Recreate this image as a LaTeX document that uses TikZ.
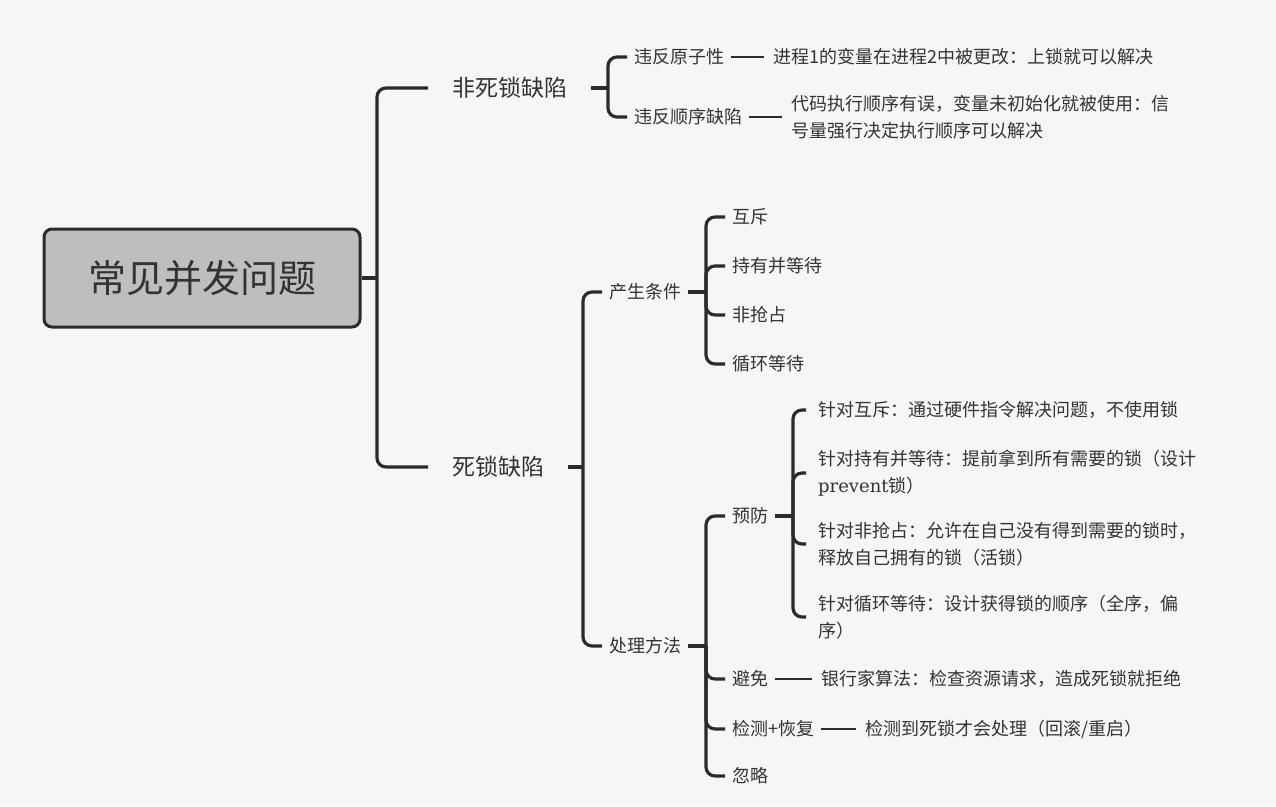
\documentclass[tikz,border=0pt]{standalone}
\usepackage{fontspec}
\setmainfont{Noto Sans CJK SC}
\newfontfamily\latinserif{DejaVu Serif}
\usetikzlibrary{positioning}
\definecolor{paper}{HTML}{F6F6F6}
\definecolor{ink}{HTML}{333333}
\definecolor{wire}{HTML}{2B2B2B}
\definecolor{rootfill}{HTML}{BEBEBE}

\begin{document}
\begin{tikzpicture}[
    x=1pt, y=-1pt,
    rootbox/.style={draw=wire, line width=3pt, rounded corners=8pt, fill=rootfill,
                    minimum width=316pt, minimum height=98pt, text=ink,
                    font=\fontsize{38}{46}\selectfont},
    mainbox/.style={anchor=west, inner xsep=24pt, text=ink, font=\fontsize{23}{28}\selectfont},
    subbox/.style={anchor=west, inner xsep=7pt, text=ink, font=\fontsize{18}{27}\selectfont},
    pbox/.style={subbox, inner xsep=12pt, align=left},
    notebox/.style={inner xsep=9pt, text=ink, align=left, font=\fontsize{18}{27}\selectfont},
    branch/.style={draw=wire, line width=3.2pt, rounded corners=9pt},
    link/.style={draw=wire, line width=2.2pt}
]
\fill[paper] (0,0) rectangle (1276,806);
\useasboundingbox (0,0) rectangle (1276,806);

% root
\node[rootbox] (root) at (202,278) {常见并发问题};

% first level
\node[mainbox] (nodl) at (428,88) {非死锁缺陷};
\node[mainbox] (dl) at (428,467) {死锁缺陷};

% non-deadlock
\node[subbox] (atom) at (627,57) {违反原子性};
\node[subbox] (order) at (627,117) {违反顺序缺陷};
\node[notebox, right=33pt of atom] (atomnote) {进程1的变量在进程2中被更改：上锁就可以解决};
\node[notebox, right=33pt of order] (ordernote) {代码执行顺序有误，变量未初始化就被使用：信\\号量强行决定执行顺序可以解决};

% deadlock
\node[subbox] (cond) at (602,292) {产生条件};
\node[subbox] (handle) at (602,646) {处理方法};

\node[subbox] (mutex) at (725,217) {互斥};
\node[subbox] (hold) at (725,266) {持有并等待};
\node[subbox] (nopre) at (725,315) {非抢占};
\node[subbox] (cyc) at (725,364) {循环等待};

\node[subbox] (prev) at (725,516) {预防};
\node[subbox] (avoid) at (725,679) {避免};
\node[subbox] (detect) at (725,729) {检测+恢复};
\node[subbox] (ignore) at (725,776) {忽略};

\node[pbox] (pmutex) at (806,410) {针对互斥：通过硬件指令解决问题，不使用锁};
\node[pbox] (phold) at (806,473) {针对持有并等待：提前拿到所有需要的锁（设计\\{\latinserif prevent}锁）};
\node[pbox] (pnopre) at (806,544) {针对非抢占：允许在自己没有得到需要的锁时，\\释放自己拥有的锁（活锁）};
\node[pbox] (pcyc) at (806,617) {针对循环等待：设计获得锁的顺序（全序，偏\\序）};

\node[notebox, right=37pt of avoid] (avoidnote) {银行家算法：检查资源请求，造成死锁就拒绝};
\node[notebox, right=35pt of detect] (detectnote) {检测到死锁才会处理（回滚/重启）};

% junctions
\coordinate (j0) at (377,278);
\coordinate (j1) at (608,88);
\coordinate (j2) at (583,467);
\coordinate (j3) at (706,292);
\coordinate (j4) at (706,646);
\coordinate (j5) at (793,516);

% branches
\draw[branch] (root.east) -- (j0);
\foreach \c in {nodl,dl} \draw[branch] (j0) |- (\c.west);
\draw[branch] (nodl.east) -- (j1);
\foreach \c in {atom,order} \draw[branch] (j1) |- (\c.west);
\draw[branch] (dl.east) -- (j2);
\foreach \c in {cond,handle} \draw[branch] (j2) |- (\c.west);
\draw[branch] (cond.east) -- (j3);
\foreach \c in {mutex,hold,nopre,cyc} \draw[branch] (j3) |- (\c.west);
\draw[branch] (handle.east) -- (j4);
\foreach \c in {prev,avoid,detect,ignore} \draw[branch] (j4) |- (\c.west);
\draw[branch] (prev.east) -- (j5);
\foreach \c in {pmutex,phold,pnopre,pcyc} \draw[branch] (j5) |- (\c.west);

% plain links
\draw[link] (atom) -- (atomnote);
\draw[link] (order) -- (ordernote);
\draw[link] (avoid) -- (avoidnote);
\draw[link] (detect) -- (detectnote);
\end{tikzpicture}
\end{document}
